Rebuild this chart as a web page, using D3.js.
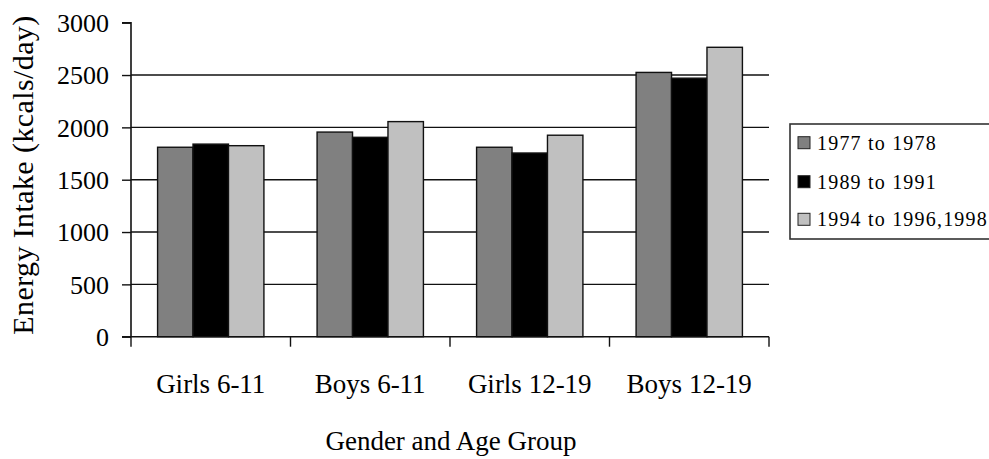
<!DOCTYPE html>
<html>
<head>
<meta charset="utf-8">
<script src="https://cdn.jsdelivr.net/npm/d3@7"></script>
<style>
  html, body { margin: 0; padding: 0; background: #fff; }
  svg { display: block; }
  svg text { font-family: "Liberation Serif", "Times New Roman", serif; fill: #000; }
</style>
</head>
<body>
<svg id="chart" width="989" height="459"></svg>
<script>
// Average energy intake by gender/age group across survey periods
const categories = ["Girls 6-11", "Boys 6-11", "Girls 12-19", "Boys 12-19"];
const seriesNames = ["1977 to 1978", "1989 to 1991", "1994 to 1996,1998"];
const values1977 = [1810, 1955, 1810, 2525];
const values1989 = [1840, 1905, 1755, 2470];
const values1994 = [1825, 2055, 1925, 2765];
const seriesColors = ["#808080", "#000000", "#c0c0c0"];
const yTicks = [0, 500, 1000, 1500, 2000, 2500, 3000];
const yTitle = "Energy Intake (kcals/day)";
const xTitle = "Gender and Age Group";

const seriesValues = [values1977, values1989, values1994];

const svg = d3.select("#chart");
const plot = { left: 131, right: 769, top: 22.7, bottom: 336.7 };

const x = d3.scaleBand().domain(categories).range([plot.left, plot.right]).paddingInner(0).paddingOuter(0);
const xSub = d3.scaleBand().domain(seriesNames).range([0, x.bandwidth()]).paddingInner(0).paddingOuter(0.75);
const y = d3.scaleLinear().domain([0, 3000]).range([plot.bottom, plot.top]);

// horizontal gridlines (none at the top value)
svg.append("g")
  .selectAll("line")
  .data(yTicks.filter(t => t > 0 && t < 3000))
  .join("line")
  .attr("x1", plot.left).attr("x2", plot.right)
  .attr("y1", d => y(d)).attr("y2", d => y(d))
  .attr("stroke", "#111").attr("stroke-width", 1.4);

// bars
const groups = svg.append("g")
  .selectAll("g")
  .data(categories)
  .join("g")
  .attr("transform", d => `translate(${x(d)},0)`);

groups.selectAll("rect")
  .data((c, i) => seriesNames.map((s, k) => ({ s, k, v: seriesValues[k][i] })))
  .join("rect")
  .attr("x", d => xSub(d.s))
  .attr("width", xSub.bandwidth())
  .attr("y", d => y(d.v))
  .attr("height", d => y(0) - y(d.v))
  .attr("fill", d => seriesColors[d.k])
  .attr("stroke", "#111")
  .attr("stroke-width", 1.4);

// y axis
const yAxis = d3.axisLeft(y).tickValues(yTicks).tickSize(9).tickPadding(13).tickFormat(d3.format("d"));
const gy = svg.append("g").attr("transform", `translate(${plot.left},0)`).call(yAxis);
gy.attr("font-family", null).attr("font-size", null);
gy.select(".domain").attr("stroke", "#111").attr("stroke-width", 1.6).attr("d", `M-9,${plot.top}H0V${plot.bottom}`);
gy.selectAll(".tick line").attr("stroke", "#111").attr("stroke-width", 1.4);
gy.selectAll(".tick text")
  .attr("font-size", 26)
  .attr("dy", "0.34em")
  .attr("fill", "#000");

// x axis: ticks at band boundaries
const xAxisLine = svg.append("g");
xAxisLine.append("line")
  .attr("x1", plot.left - 9).attr("x2", plot.right)
  .attr("y1", plot.bottom).attr("y2", plot.bottom)
  .attr("stroke", "#111").attr("stroke-width", 1.6);
const boundaries = categories.map(c => x(c)).concat([x(categories[categories.length - 1]) + x.bandwidth()]);
xAxisLine.selectAll("line.tk")
  .data(boundaries)
  .join("line")
  .attr("class", "tk")
  .attr("x1", d => d).attr("x2", d => d)
  .attr("y1", plot.bottom).attr("y2", plot.bottom + 10)
  .attr("stroke", "#111").attr("stroke-width", 1.4);

svg.append("g")
  .selectAll("text")
  .data(categories)
  .join("text")
  .attr("x", d => x(d) + x.bandwidth() / 2)
  .attr("y", 393)
  .attr("text-anchor", "middle")
  .style("font-size", "27px")
  .text(d => d);

// axis titles
svg.append("text")
  .attr("x", 451)
  .attr("y", 450)
  .attr("text-anchor", "middle")
  .style("font-size", "27px")
  .text(xTitle);

svg.append("text")
  .attr("transform", `translate(33,${(13 + 337) / 2}) rotate(-90)`)
  .attr("text-anchor", "middle")
  .style("font-size", "30px")
  .style("letter-spacing", "0.4px")
  .text(yTitle);

// legend
const legend = svg.append("g");
legend.append("rect")
  .attr("x", 790).attr("y", 124)
  .attr("width", 220).attr("height", 115)
  .attr("fill", "#fff")
  .attr("stroke", "#333").attr("stroke-width", 1.6);
const rowY = [142.7, 181.7, 219.3];
const items = legend.selectAll("g")
  .data(seriesNames)
  .join("g")
  .attr("transform", (d, i) => `translate(0,${rowY[i]})`);
items.append("rect")
  .attr("x", 798).attr("y", -6)
  .attr("width", 12).attr("height", 12)
  .attr("fill", (d, i) => seriesColors[i])
  .attr("stroke", "#222").attr("stroke-width", 1);
items.append("text")
  .attr("x", 817)
  .attr("y", 7)
  .style("font-size", "20px")
  .style("letter-spacing", "1.2px")
  .text(d => d);
</script>
</body>
</html>
